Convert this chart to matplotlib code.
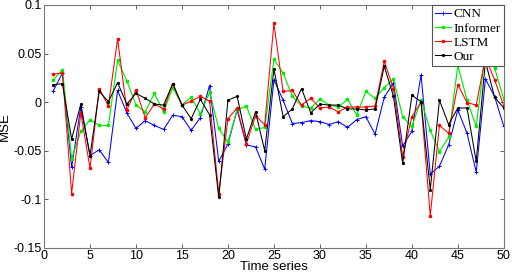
import matplotlib
matplotlib.use("Agg")
import matplotlib.pyplot as plt
import numpy as np

t = np.arange(1, 51)

cnn = [0.0115, 0.030, -0.067, -0.005, -0.055, -0.049, -0.062, 0.012, -0.011, -0.027,
       -0.019, -0.024, -0.028, -0.0135, -0.015, -0.029, -0.016, 0.017, -0.061, -0.043,
       -0.008, -0.044, -0.046, -0.069, 0.023, 0.002, -0.022, -0.021, -0.019, -0.020,
       -0.023, -0.020, -0.026, -0.018, -0.015, -0.033, 0.005, 0.020, -0.045, -0.030,
       0.028, -0.074, -0.066, -0.044, -0.008, -0.032, -0.072, 0.024, 0.0057, -0.025]
informer = [0.023, 0.033, -0.058, -0.030, -0.018, -0.024, -0.024, 0.043, 0.022, -0.003,
            -0.010, 0.009, -0.010, 0.015, -0.003, 0.005, -0.012, 0.010, -0.027, -0.041,
            -0.008, -0.004, -0.028, -0.026, 0.044, 0.030, 0.006, -0.004, -0.006, 0.003,
            -0.003, -0.005, 0.003, -0.013, 0.011, 0.004, 0.015, 0.024, -0.015, -0.025,
            0.002, -0.029, -0.051, -0.036, 0.038, 0.002, -0.025, 0.052, 0.035, 0.003]
lstm = [0.0287, 0.030, -0.094, -0.011, -0.068, 0.014, -0.004, 0.065, -0.008, 0.0125,
        -0.016, -0.002, -0.007, 0.019, -0.003, 0.001, 0.006, 0.001, -0.094, -0.017,
        -0.006, -0.043, -0.014, -0.023, 0.081, 0.011, 0.012, -0.003, 0.004, -0.006,
        -0.005, -0.010, -0.005, -0.005, -0.005, -0.004, 0.042, 0.014, -0.056, -0.015,
        0.000, -0.117, -0.024, -0.032, 0.018, -0.0005, -0.003, 0.046, 0.023, -0.004]
ours = [0.018, 0.019, -0.038, -0.002, -0.055, 0.011, 0.0005, 0.020, -0.002, 0.009,
        0.004, -0.002, -0.003, 0.019, -0.003, -0.017, 0.003, -0.013, -0.098, 0.002,
        0.006, -0.038, -0.010, -0.050, 0.034, -0.015, -0.007, 0.014, -0.011, -0.002,
        -0.003, -0.003, -0.007, -0.007, -0.008, -0.007, 0.037, 0.006, -0.063, 0.007,
        0.0005, -0.090, 0.002, -0.023, -0.006, -0.006, -0.061, 0.042, 0.005, -0.006]

fig = plt.figure(figsize=(5.12, 2.74), dpi=100)
ax = fig.add_axes([0.086, 0.095, 0.898, 0.887])

ax.plot(t, cnn, color="#0000ff", lw=0.75, marker="+", ms=2.5, mew=0.7, label="CNN")
ax.plot(t, informer, color="#00ee00", lw=0.85, marker="s", ms=2.0, label="Informer")
ax.plot(t, lstm, color="#ff0000", lw=0.75, marker="o", ms=1.6, label="LSTM")
ax.plot(t, ours, color="black", lw=0.75, marker="o", ms=1.3, label="Our")

ax.set_xlim(0, 50)
ax.set_ylim(-0.15, 0.1)
ax.set_xticks(np.arange(0, 51, 5))
ax.set_yticks([-0.15, -0.1, -0.05, 0, 0.05, 0.1])
ax.set_yticklabels(["-0.15", "-0.1", "-0.05", "0", "0.05", "0.1"])
ax.tick_params(direction="in", top=True, right=True, length=3, width=0.6,
               labelsize=9, pad=1.5, colors="#444444", labelcolor="black")
for lab in ax.get_xticklabels() + ax.get_yticklabels():
    lab.set_family("Liberation Sans")
for s in ax.spines.values():
    s.set_color("#777777")
    s.set_linewidth(0.8)

ax.set_xlabel("Time series", fontsize=9.5, family="Liberation Sans", labelpad=-1)
ax.set_ylabel("MSE", fontsize=9.5, family="Liberation Sans", labelpad=2)

leg = ax.legend(loc="upper right", borderaxespad=0, fancybox=False,
                prop={"family": "Liberation Serif", "size": 9.5},
                handlelength=1.2, handletextpad=0.15, labelspacing=0.15,
                borderpad=0.25)
leg.get_frame().set_edgecolor("#555555")
leg.get_frame().set_linewidth(0.8)
leg.get_frame().set_alpha(1)

fig.savefig("out.png", dpi=100)
